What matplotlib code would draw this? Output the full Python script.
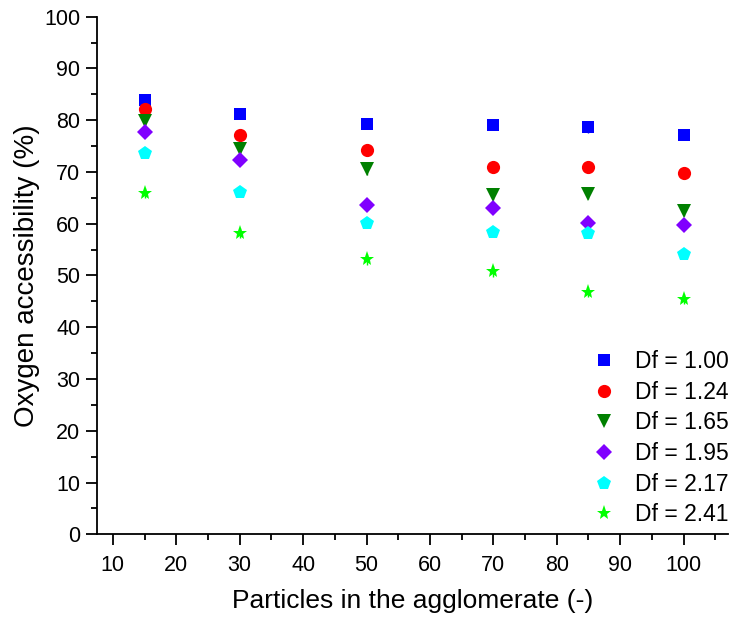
import matplotlib
matplotlib.use("Agg")
import matplotlib.pyplot as plt
from matplotlib.ticker import MultipleLocator

plt.rcParams['font.family'] = ['Liberation Sans', 'DejaVu Sans']

particles = [15, 30, 50, 70, 85, 100]
labels = ["Df = 1.00", "Df = 1.24", "Df = 1.65", "Df = 1.95", "Df = 2.17", "Df = 2.41"]
df100 = [84.0, 81.2, 79.3, 79.1, 78.6, 77.1]
df124 = [82.2, 77.1, 74.2, 71.0, 71.0, 69.8]
df165 = [79.8, 74.5, 70.5, 65.5, 65.8, 62.4]
df195 = [77.7, 72.4, 63.6, 63.1, 60.2, 59.7]
df217 = [73.7, 66.1, 60.2, 58.4, 58.3, 54.1]
df241 = [65.9, 58.2, 53.1, 50.8, 46.8, 45.4]
err = [1.0, 1.0, 1.0, 1.0, 1.0, 1.0]

series = [df100, df124, df165, df195, df217, df241]
colors = ["#0000FF", "#FF0000", "#008000", "#8000FF", "#00FFFF", "#00FF00"]
markers = ["s", "o", "v", "D", "p", "*"]
sizes = [8, 9.5, 10, 8.5, 10.5, 11]

fig = plt.figure(figsize=(7.37, 6.24), dpi=100)
ax = fig.add_axes([0.1316, 0.1438, 0.8562, 0.8294])

for y, c, m, s, lab in zip(series, colors, markers, sizes, labels):
    ax.errorbar(particles, y, yerr=err, fmt=m, color=c, ecolor=c, elinewidth=1,
                capsize=0, markersize=s, markeredgewidth=0, label=lab, zorder=3)

ax.set_xlim(7.5, 107)
ax.set_ylim(0, 100)
ax.xaxis.set_major_locator(MultipleLocator(10))
ax.xaxis.set_minor_locator(MultipleLocator(5))
ax.yaxis.set_major_locator(MultipleLocator(10))
ax.yaxis.set_minor_locator(MultipleLocator(5))
ax.set_xticks(range(10, 101, 10))
for sp in ['top', 'right']:
    ax.spines[sp].set_visible(False)
for sp in ['left', 'bottom']:
    ax.spines[sp].set_linewidth(1.3)
ax.tick_params(which='major', direction='out', length=8, width=1.3, labelsize=15.5)
ax.tick_params(axis='x', which='major', pad=7)
ax.tick_params(axis='y', which='major', pad=4)
ax.tick_params(which='minor', direction='out', length=4.5, width=1.3)

ax.set_xlabel("Particles in the agglomerate (-)", fontsize=19, labelpad=9)
ax.set_ylabel("Oxygen accessibility (%)", fontsize=20, labelpad=3)

handles, labs = ax.get_legend_handles_labels()
handles = [h[0] for h in handles]
leg = ax.legend(handles, labs, loc='lower right', bbox_to_anchor=(1.025, -0.013), frameon=False,
                fontsize=16.5, handletextpad=0.7, labelspacing=0.33, handlelength=1.3,
                borderaxespad=0.25)

fig.savefig("out.png", dpi=100)
